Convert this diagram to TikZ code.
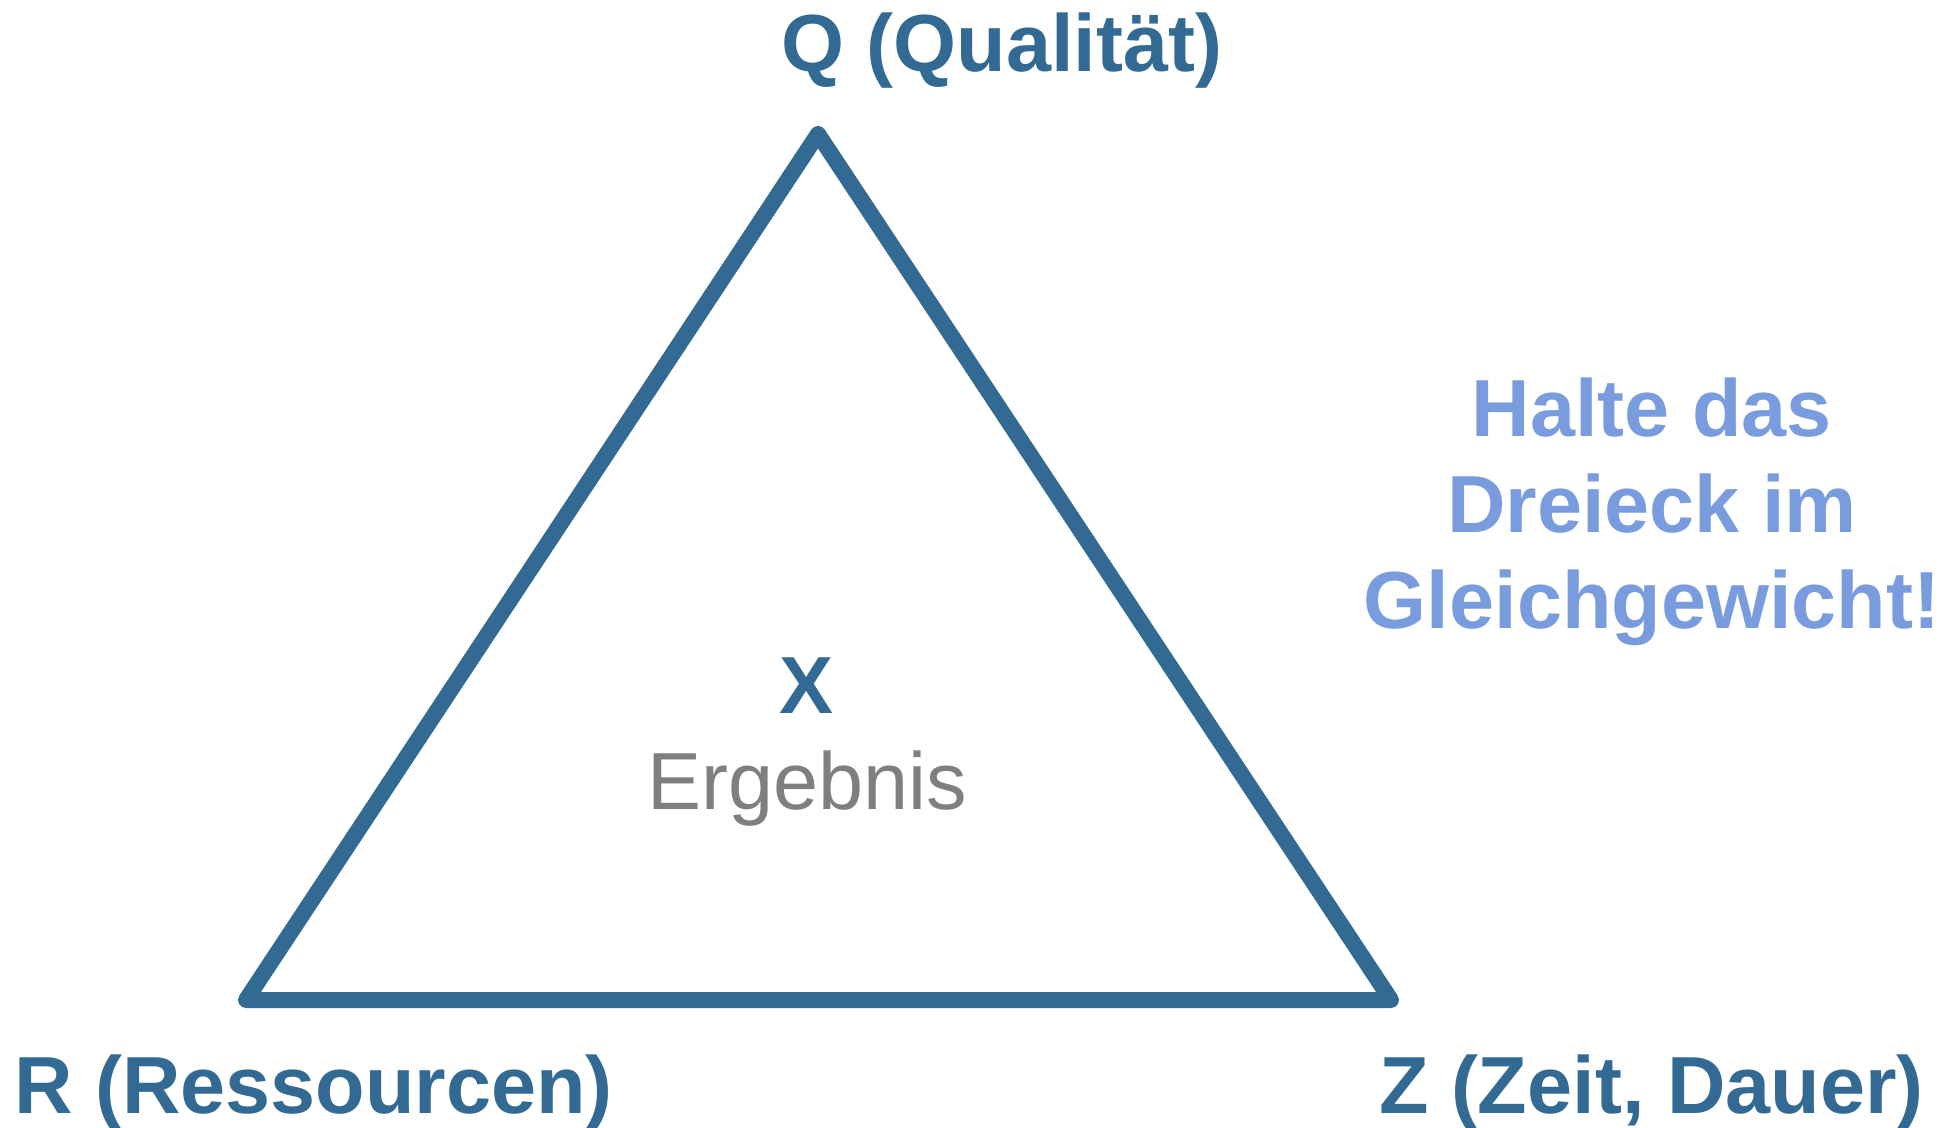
\documentclass[tikz,border=0pt]{standalone}
\usepackage{fontspec}
\setmainfont{Liberation Sans}
\usetikzlibrary{positioning}
\definecolor{dreieck-blau}{RGB}{51,106,147}
\definecolor{hell-blau}{RGB}{120,156,222}
\definecolor{ergebnis-grau}{RGB}{127,127,127}

\begin{document}
\begin{tikzpicture}[x=0.5pt, y=-0.5pt,
	   ecke/.style={inner sep=0pt, text=dreieck-blau, font=\fontsize{40.5}{48}\selectfont\bfseries},
	   mitte/.style={inner sep=0pt, anchor=base, font=\fontsize{40.5}{48}\selectfont}]
	  \useasboundingbox (0,0) rectangle (1946,1128);
	  \coordinate (q) at (818,134);
	  \coordinate (r) at (246,1000);
	  \coordinate (z) at (1391,1000);
	  \draw[dreieck-blau, line width=8pt, line join=round] (q)--(r)--(z)--cycle;
	  \node[ecke, anchor=base west] (Q) at (781,72) {Q (Qualität)};
	  \node[ecke, anchor=base west] (R) at (14,1113) {R (Ressourcen)};
	  \node[ecke, anchor=base east] (Z) at (1924,1113) {Z (Zeit, Dauer)};
	  \node[mitte, text=dreieck-blau, font=\fontsize{40.5}{48}\selectfont\bfseries] (X) at (806,713) {X};
	  \node[mitte, text=ergebnis-grau] (erg) at (807,809) {Ergebnis};
	  \node[inner sep=0pt, align=center, text=hell-blau, font=\fontsize{40.5}{48}\selectfont\bfseries] (halte) at (1652,511.5) {Halte das\\ Dreieck im\\ Gleichgewicht!};
	\end{tikzpicture}
\end{document}
